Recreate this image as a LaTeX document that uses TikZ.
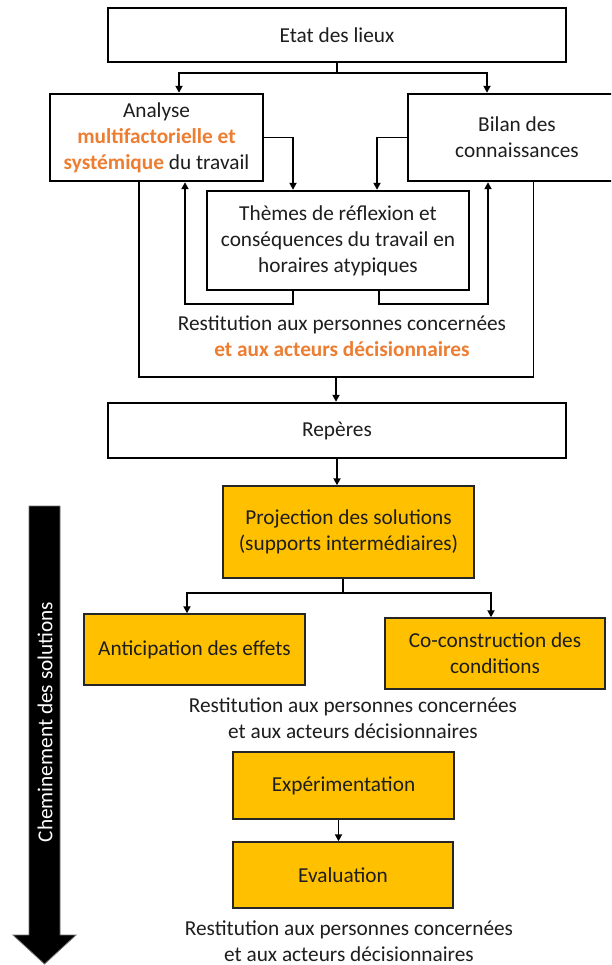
\documentclass[tikz,border=0pt]{standalone}
\usepackage{fontspec}
\setmainfont{Carlito}
\usetikzlibrary{arrows.meta}
\definecolor{accent}{HTML}{ED7D31}
\definecolor{boxfill}{HTML}{FFC000}
\definecolor{txt}{HTML}{1E1E1E}
\begin{document}
\begin{tikzpicture}[x=1pt,y=-1pt,
  every node/.style={font=\fontsize{21.3}{26}\selectfont, text=txt},
  wbox/.style={draw=black, line width=2.4pt, fill=white, inner sep=0pt, align=center},
  obox/.style={draw=black!85, line width=1.4pt, fill=boxfill, inner sep=0pt, align=center},
  lbl/.style={inner sep=0pt, align=center},
  conn/.style={line width=1.8pt, draw=black},
  arr/.style={conn, -{Triangle[length=7pt,width=7pt]}}
]
\clip (0,0) rectangle (611,965);
\fill[white] (0,0) rectangle (611,965);

% top white boxes
\node[wbox, minimum width=458pt, minimum height=54pt] (etat) at (337,35) {Etat des lieux};
\node[wbox, minimum width=213pt, minimum height=87pt] (analyse) at (156.5,137.5)
  {Analyse\\ \textbf{\color{accent}multifactorielle et}\\ {\bfseries\color{accent}systémique} du travail};
\node[wbox, minimum width=218pt, minimum height=87pt] (bilan) at (517,137.5)
  {Bilan des\\ connaissances};
\node[wbox, minimum width=262pt, minimum height=99pt] (themes) at (338,240.5)
  {Thèmes de réflexion et\\ conséquences du travail en\\ horaires atypiques};
\node[lbl] (restit1) at (342,336.5)
  {Restitution aux personnes concernées\\ \textbf{\color{accent}et aux acteurs décisionnaires}};
\node[wbox, minimum width=458pt, minimum height=55pt] (reperes) at (337,430.5) {Repères};

% orange boxes
\node[obox, minimum width=251pt, minimum height=92pt] (projection) at (348.5,532)
  {Projection des solutions\\ (supports intermédiaires)};
\node[obox, minimum width=221pt, minimum height=71pt] (anticipation) at (194.5,649.5)
  {Anticipation des effets};
\node[obox, minimum width=220pt, minimum height=71pt] (coconst) at (495,653.5)
  {Co-construction des\\ conditions};
\node[lbl] (restit2) at (353,718)
  {Restitution aux personnes concernées\\ et aux acteurs décisionnaires};
\node[obox, minimum width=221pt, minimum height=67pt] (experim) at (343.5,785.5)
  {Expérimentation};
\node[obox, minimum width=220pt, minimum height=66pt] (evaluation) at (343,875)
  {Evaluation};
\node[lbl] (restit3) at (349,941)
  {Restitution aux personnes concernées\\ et aux acteurs décisionnaires};

% connectors, top part
\draw[conn] (etat.south) -- ++(0,10) coordinate (split1);
\draw[arr] (split1) -| ([xshift=22.5pt]analyse.north);
\draw[arr] (split1) -| ([xshift=-30pt]bilan.north);
\draw[arr] (analyse.east) -| ([xshift=-45pt]themes.north);
\draw[arr] (bilan.west) -| ([xshift=39pt]themes.north);
\draw[arr] ([xshift=-45pt]themes.south) -- ++(0,13) -| ([xshift=28.5pt]analyse.south);
\draw[arr] ([xshift=41pt]themes.south) -- ++(0,13) -| ([xshift=-29pt]bilan.south);
\coordinate (merge) at (336,377);
\draw[conn] ([xshift=-17.5pt]analyse.south) |- (merge);
\draw[conn] ([xshift=16.5pt]bilan.south) |- (merge);
\draw[arr] (merge) -- (merge |- reperes.north);
\draw[arr] (reperes.south) -- (reperes.south |- projection.north);

% connectors, lower part
\draw[conn] ([xshift=-5.5pt]projection.south) -- ++(0,14) coordinate (split2);
\draw[arr] (split2) -| ([xshift=-7.5pt]anticipation.north);
\draw[arr] (split2) -| ([xshift=-4pt]coconst.north);
\draw[arr] ([xshift=-5pt]experim.south) -- ([xshift=-5pt]experim.south |- evaluation.north);

% big side arrow
\draw[fill=black, draw=black!55, line width=0.8pt]
  (29,506) -- (60,506) -- (60,935) -- (76,935) -- (44.5,964) -- (13,935) -- (29,935) -- cycle;
\node[lbl, text=white, rotate=90] (chemin) at (45,722) {Cheminement des solutions};
\end{tikzpicture}
\end{document}
